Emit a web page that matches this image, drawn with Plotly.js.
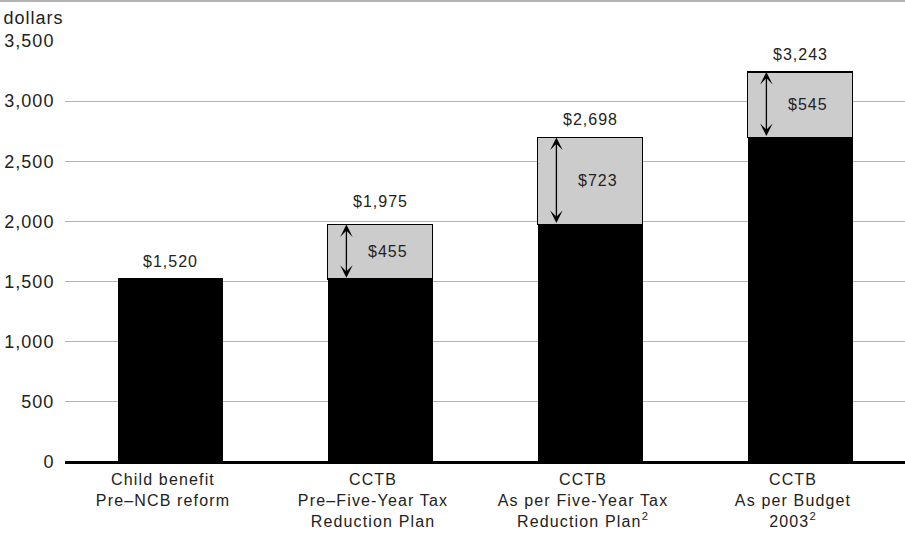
<!DOCTYPE html>
<html>
<head>
<meta charset="utf-8">
<script src="https://cdn.plot.ly/plotly-3.0.1.min.js"></script>
<style>
html,body{margin:0;padding:0;background:#fff;}
#chart{width:905px;height:536px;}
#chart text{letter-spacing:1px;}
#chart .xtick text{letter-spacing:1.15px;}
</style>
</head>
<body>
<div id="chart"></div>
<script>
const categories = [
  "Child benefit<br>Pre–NCB reform",
  "CCTB<br>Pre–Five-Year Tax<br>Reduction Plan",
  "CCTB<br>As per Five-Year Tax<br>Reduction Plan<sup>2</sup>",
  "CCTB<br>As per Budget<br>2003<sup>2</sup>"
];
const baseValues = [1520, 1520, 1975, 2698];
const increments = [0, 455, 723, 545];
const totals = [1520, 1975, 2698, 3243];
const yTicks = [0, 500, 1000, 1500, 2000, 2500, 3000, 3500];
const yTickLabels = ["0", "500", "1,000", "1,500", "2,000", "2,500", "3,000", "3,500"];

// label vertical offsets in px (style only)
const totalLabelShift = [7, 12, 7, 7];

const idx = categories.map((_, i) => i);
const fmt = v => "$" + v.toLocaleString("en-US");
const FONT = "Liberation Sans, Arial, sans-serif";

const traces = [
  {type: "bar", x: idx, y: baseValues, width: 0.5,
   marker: {color: "#000000", line: {width: 0}}, hoverinfo: "skip"},
  {type: "bar", x: idx, y: increments, width: 0.5,
   marker: {color: "#cccccc", line: {color: "#000000", width: 1.5}}, hoverinfo: "skip"}
];

const annotations = [];
idx.forEach(i => {
  annotations.push({x: i, y: totals[i], xref: "x", yref: "y", text: fmt(totals[i]),
    showarrow: false, yanchor: "bottom", yshift: totalLabelShift[i], font: {size: 16, color: "#222"}});
  if (increments[i] > 0) {
    const top = baseValues[i] + increments[i];
    annotations.push({x: i - 0.16, y: top, ax: i - 0.16, ay: baseValues[i],
      xref: "x", yref: "y", axref: "x", ayref: "y", text: "", showarrow: true,
      arrowside: "end+start", arrowhead: 3, arrowsize: 1.6, arrowwidth: 1.3,
      arrowcolor: "#000", standoff: 0, startstandoff: 0});
    annotations.push({x: i + 0.04, y: baseValues[i] + increments[i] / 2, xref: "x", yref: "y",
      text: fmt(increments[i]), showarrow: false, font: {size: 16, color: "#222"}});
  }
});
annotations.push({xref: "paper", yref: "paper", x: -60 / 840, y: 1 + 23 / 421,
  xanchor: "left", yanchor: "middle", text: "dollars", showarrow: false,
  font: {size: 18, color: "#222"}});

const layout = {
  width: 905, height: 536,
  margin: {l: 65, r: 0, t: 41, b: 74},
  paper_bgcolor: "#fff", plot_bgcolor: "#fff",
  font: {family: FONT, size: 16, color: "#222"},
  barmode: "stack", showlegend: false,
  xaxis: {range: [-0.5, 3.5], tickvals: idx, ticktext: categories, showgrid: false,
    zeroline: false, showline: false, ticks: "outside", ticklen: 3, tickcolor: "rgba(0,0,0,0)",
    ticklabelshift: -7,
    tickfont: {size: 16, color: "#222"}, fixedrange: true},
  yaxis: {range: [0, 3500], tickvals: yTicks, ticktext: yTickLabels, showgrid: true,
    gridcolor: "#b3b3b3", gridwidth: 1, zeroline: true, zerolinecolor: "#000", zerolinewidth: 3,
    showline: false, ticks: "outside", ticklen: 6, tickcolor: "rgba(0,0,0,0)",
    tickfont: {size: 18, color: "#222"}, fixedrange: true},
  shapes: [{type: "line", xref: "paper", yref: "paper", x0: -65 / 840, x1: 1,
    y0: 1 + 40 / 421, y1: 1 + 40 / 421, line: {color: "#999", width: 1.5}}],
  annotations: annotations
};

Plotly.newPlot("chart", traces, layout, {staticPlot: true, displayModeBar: false});
</script>
</body>
</html>
